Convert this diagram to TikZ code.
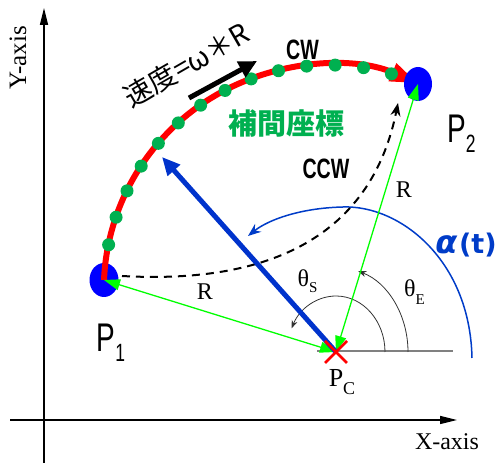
\documentclass[tikz,border=0pt]{standalone}
\usepackage{fontspec}
\setmainfont{Liberation Serif}
\newfontfamily\cjk{Noto Sans CJK JP}
\newfontfamily\lsans{Liberation Sans}
\newfontfamily\dvs{DejaVu Sans}
\usetikzlibrary{arrows.meta}
\definecolor{pblue}{RGB}{0,0,255}
\definecolor{arrowblue}{RGB}{0,51,204}
\definecolor{alphablue}{RGB}{0,60,200}
\definecolor{dotgreen}{RGB}{0,176,80}
\definecolor{lgreen}{RGB}{0,255,0}
\definecolor{ared}{RGB}{255,0,0}
\begin{document}
\begin{tikzpicture}[x=1pt,y=1pt,
  axisline/.style={line width=1.3pt,-{Triangle[length=17pt,width=8pt]}},
  serif/.style={font=\fontsize{24}{24}\selectfont},
  greenarr/.style={draw=lgreen,line width=1.3pt,{Triangle[length=16pt,width=11pt]}-{Triangle[length=16pt,width=11pt]}},
  anglearc/.style={draw=black!80,line width=0.8pt,-{Stealth[length=8pt,width=6pt]}},
  blob/.style={fill=pblue},
  igdot/.style={fill=dotgreen}
]
\useasboundingbox (0,0) rectangle (499,463);
% key points
\coordinate (Pc) at (336,111);
\coordinate (P1) at (104,183);
\coordinate (P2) at (418,379);
\coordinate (C0) at (329,173);
\coordinate (B) at (162,306);
% axes
\coordinate (yb) at (44,0);
\coordinate (yt) at (44,455);
\coordinate (xl) at (10,43);
\coordinate (xr) at (457,43);
\draw[axisline] (yb) -- (yt);
\draw[axisline] (xl) -- (xr);
\node[serif,font=\fontsize{25}{25}\selectfont,rotate=90] (ylab) at (18,405) {Y-axis};
\node[serif] (xlab) at (447,21) {X-axis};
% reference line at Pc
\coordinate (gl) at (317,112);
\coordinate (gr) at (453,112);
\draw[gray,line width=1.5pt] (gl) -- (gr);
% alpha(t) arc
\coordinate (a0) at (472,105);
\coordinate (a1) at (343,256);
\coordinate (a2) at (248,227);
\draw[alphablue,line width=1.5pt,-{Stealth[length=13pt,width=10pt]}] (a0) .. controls (470,203) and (400,258) .. (a1) .. controls (300,255) and (268,243) .. (a2);
\node[text=alphablue,inner sep=0pt] (alab) at (466,218) {\dvs\bfseries{\fontsize{32}{32}\selectfont\itshape α}\,{\fontsize{27}{27}\selectfont(t)}};
% blobs and red arc
\fill[blob] (P1) ellipse[x radius=14.5,y radius=17];
\draw[ared,line width=6pt,-{Triangle[length=28pt,width=18pt]}] (P1) arc[start angle=177.5,end angle=66.6,radius=225];
\fill[blob] (P2) ellipse[x radius=14,y radius=17];
\foreach \k in {0,...,13}
  \fill[igdot] (C0) ++({168.4-7.27*\k}:225) circle[radius=6.5];
% dashed CCW path
\coordinate (d0) at (122,187);
\coordinate (d1) at (398,360);
\draw[black,line width=2pt,dash pattern=on 8pt off 6pt,-{Stealth[length=13pt,width=10pt]}] (d0) .. controls (281,178) and (373,235) .. (d1);
% angle arcs
\draw[anglearc] (385,111) arc[start angle=0,end angle=155,x radius=49,y radius=56];
\draw[anglearc] (408,111) arc[start angle=0,end angle=72,x radius=72,y radius=85];
% green radius arrows
\draw[greenarr] (Pc) -- (P1);
\draw[greenarr] (Pc) -- (P2);
% blue radius arrow
\draw[arrowblue,line width=5pt,-{Triangle[length=18pt,width=16pt]}] (Pc) -- (B);
% Pc cross
\draw[ared,line width=2.5pt] (325,100) -- (347,122) (325,122) -- (347,100);
% speed arrow
\coordinate (s0) at (189,365);
\coordinate (s1) at (257,402);
\draw[black,line width=5pt,-{Triangle[length=18pt,width=17pt]}] (s0) -- (s1);
% labels
\node[serif] (r1) at (205,171) {R};
\node[serif] (r2) at (404,273) {R};
\node[inner sep=0pt] (ths) at (307.5,181.5) {\fontsize{24}{24}\selectfont θ\raisebox{-6pt}{\fontsize{15}{15}\selectfont S}};
\node[inner sep=0pt] (the) at (414.5,170.5) {\fontsize{24}{24}\selectfont θ\raisebox{-8pt}{\fontsize{15}{15}\selectfont E}};
\node[inner sep=0pt] (pcl) at (342,80.5) {\fontsize{26}{26}\selectfont P\raisebox{-8pt}{\fontsize{18}{18}\selectfont C}};
\node[inner sep=0pt] (p1l) at (111,120) {\scalebox{0.7}[1]{\lsans\fontsize{40}{40}\selectfont P\raisebox{-10pt}{\fontsize{25}{25}\selectfont 1}}};
\node[inner sep=0pt] (p2l) at (461.5,329.5) {\scalebox{0.7}[1]{\lsans\fontsize{40}{40}\selectfont P\raisebox{-10pt}{\fontsize{25}{25}\selectfont 2}}};
\node[inner sep=0pt] (cw) at (302.5,413.5) {\scalebox{0.7}[1]{\lsans\bfseries\fontsize{28}{28}\selectfont CW}};
\node[inner sep=0pt] (ccw) at (326,294) {\scalebox{0.7}[1]{\lsans\bfseries\fontsize{28}{28}\selectfont CCW}};
\node[inner sep=0pt,text=dotgreen] (interp) at (286,339) {\cjk\bfseries\fontsize{29}{29}\selectfont 補間座標};
\node[inner sep=0pt,rotate=30,anchor=base] (speed) at (192,389) {\cjk\fontsize{28}{28}\selectfont 速度=ω＊R};
\end{tikzpicture}
\end{document}
